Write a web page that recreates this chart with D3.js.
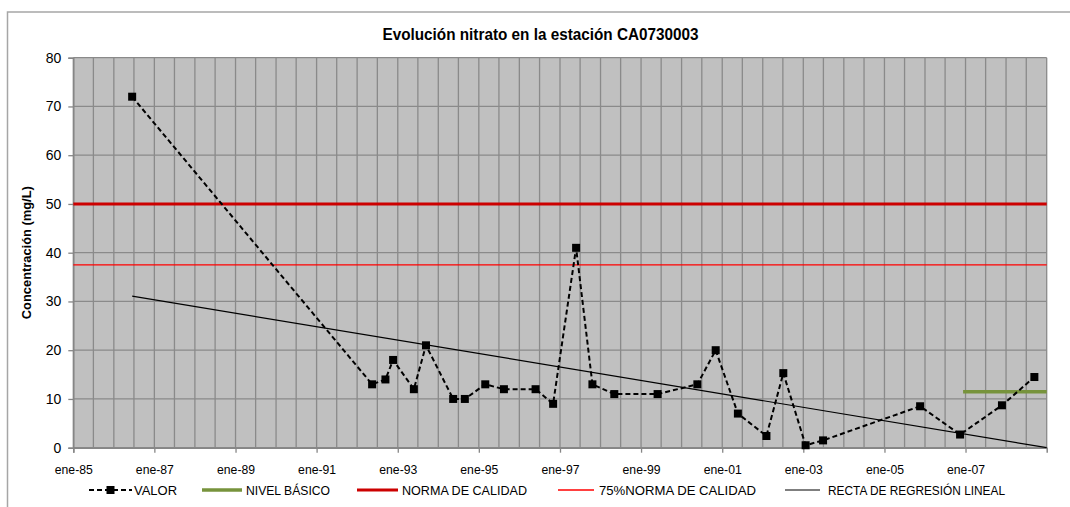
<!DOCTYPE html>
<html>
<head>
<meta charset="utf-8">
<script src="https://cdn.jsdelivr.net/npm/d3@7"></script>
<style>
  html, body { margin: 0; padding: 0; background: #ffffff; }
  svg { display: block; font-family: "Liberation Sans", Arial, sans-serif; }
</style>
</head>
<body>
<svg id="chart" width="1070" height="507"></svg>
<script>
// ---------- DATA ----------
const title = "Evolución nitrato en la estación CA0730003";
const yTitle = "Concentración (mg/L)";

const valorDates = ["1986-06-15","1992-05-15","1992-09-12","1992-11-20","1993-05-26","1993-09-12",
  "1994-05-15","1994-08-28","1995-02-28","1995-08-15","1996-05-26","1996-10-31","1997-05-26",
  "1997-10-20","1998-05-05","1999-05-30","2000-05-22","2000-11-03","2001-05-22","2002-02-03",
  "2002-07-05","2003-01-22","2003-06-28","2005-11-18","2006-11-13","2007-11-25","2008-09-12"];
const valorValues = [72, 13, 14, 18, 12, 21, 10, 10, 13, 12, 12, 9, 41, 13, 11, 11, 13, 20, 7, 2.4,
  15.3, 0.5, 1.5, 8.5, 2.7, 8.7, 14.5];

const nivelBasicoDates = ["2006-12-10", "2009-01-01"];
const nivelBasicoValues = [11.5, 11.5];

const normaDates = ["1985-01-01", "2009-01-01"];
const normaValues = [50, 50];

const norma75Dates = ["1985-01-01", "2009-01-01"];
const norma75Values = [37.5, 37.5];

const regresionDates = ["1986-06-15", "2009-01-01"];
const regresionValues = [31.1, 0.0];

const xDomain = ["1985-01-01", "2009-01-01"];
const xTickDates = ["1985-01-01","1987-01-01","1989-01-01","1991-01-01","1993-01-01","1995-01-01",
  "1997-01-01","1999-01-01","2001-01-01","2003-01-01","2005-01-01","2007-01-01"];
const xTickLabels = ["ene-85","ene-87","ene-89","ene-91","ene-93","ene-95","ene-97","ene-99",
  "ene-01","ene-03","ene-05","ene-07"];
const yTicks = [0, 10, 20, 30, 40, 50, 60, 70, 80];

const legendLabels = ["VALOR", "NIVEL BÁSICO", "NORMA DE CALIDAD", "75%NORMA DE CALIDAD", "RECTA DE REGRESIÓN  LINEAL"];

// ---------- LAYOUT ----------
const parse = d3.utcParse("%Y-%m-%d");
const P = { left: 73.3, right: 1046.7, top: 57.7, bottom: 447.7 };
const svg = d3.select("#chart");

const x = d3.scaleUtc().domain(xDomain.map(parse)).range([P.left, P.right]);
const y = d3.scaleLinear().domain([0, 80]).range([P.bottom, P.top]);

const gridColor = "#8a8a8a";
const axisColor = "#868686";

// outer chart border (only top/left visible)
svg.append("path")
  .attr("d", "M7.5,1100 L7.5,12 L1100,12")
  .attr("fill", "none").attr("stroke", "#a6a6a6").attr("stroke-width", 1.5);

// plot background
svg.append("rect")
  .attr("x", P.left).attr("y", P.top)
  .attr("width", P.right - P.left).attr("height", P.bottom - P.top)
  .attr("fill", "#c0c0c0");

// vertical gridlines every 6 months
const vGrid = d3.utcMonth.every(6).range(parse(xDomain[0]), d3.utcDay.offset(parse(xDomain[1]), 1));
svg.append("g").selectAll("line").data(vGrid).join("line")
  .attr("x1", d => x(d)).attr("x2", d => x(d))
  .attr("y1", P.top).attr("y2", P.bottom)
  .attr("stroke", gridColor).attr("stroke-width", 1.3);

// horizontal gridlines
svg.append("g").selectAll("line").data(yTicks).join("line")
  .attr("x1", P.left).attr("x2", P.right)
  .attr("y1", d => y(d)).attr("y2", d => y(d))
  .attr("stroke", gridColor).attr("stroke-width", 1.3);

// Y axis
const yAxis = d3.axisLeft(y).tickValues(yTicks).tickSize(5).tickPadding(7);
const gy = svg.append("g").attr("transform", `translate(${P.left},0)`).call(yAxis);
gy.select(".domain").attr("stroke", axisColor).attr("stroke-width", 1.5);
gy.selectAll(".tick line").attr("stroke", axisColor).attr("stroke-width", 1.3);
gy.selectAll(".tick text").attr("font-size", 14).attr("fill", "#000")
  .attr("font-family", "Liberation Sans, Arial, sans-serif");

// X axis
const xAxis = d3.axisBottom(x).tickValues(xTickDates.map(parse))
  .tickFormat((d, i) => xTickLabels[i]).tickSize(5).tickPadding(12);
const gx = svg.append("g").attr("transform", `translate(0,${P.bottom})`).call(xAxis);
gx.select(".domain").attr("stroke", axisColor).attr("stroke-width", 1.5);
gx.selectAll(".tick line").attr("stroke", axisColor).attr("stroke-width", 1.3);
gx.selectAll(".tick text").attr("font-size", 13).attr("fill", "#000")
  .attr("font-family", "Liberation Sans, Arial, sans-serif")
  .attr("textLength", 38).attr("lengthAdjust", "spacingAndGlyphs");

// series helpers
const line = d3.line().x(d => x(d[0])).y(d => y(d[1]));
const zip = (ds, vs) => ds.map((d, i) => [parse(d), vs[i]]);

// 75% norma (thin red)
svg.append("path").datum(zip(norma75Dates, norma75Values)).attr("d", line)
  .attr("fill", "none").attr("stroke", "#ff0000").attr("stroke-width", 1.3);
// norma (thick dark red)
svg.append("path").datum(zip(normaDates, normaValues)).attr("d", line)
  .attr("fill", "none").attr("stroke", "#cc0000").attr("stroke-width", 3);
// regression
svg.append("path").datum(zip(regresionDates, regresionValues)).attr("d", line)
  .attr("fill", "none").attr("stroke", "#000").attr("stroke-width", 1.2);
// nivel basico
svg.append("path").datum(zip(nivelBasicoDates, nivelBasicoValues)).attr("d", line)
  .attr("fill", "none").attr("stroke", "#77933c").attr("stroke-width", 3.5);
// valor
const valor = zip(valorDates, valorValues);
svg.append("path").datum(valor).attr("d", line)
  .attr("fill", "none").attr("stroke", "#000").attr("stroke-width", 2)
  .attr("stroke-dasharray", "5,3");
const ms = 8;
svg.append("g").selectAll("rect").data(valor).join("rect")
  .attr("x", d => x(d[0]) - ms / 2).attr("y", d => y(d[1]) - ms / 2)
  .attr("width", ms).attr("height", ms).attr("fill", "#000");

// title
svg.append("text").attr("x", 540.5).attr("y", 40).attr("text-anchor", "middle")
  .attr("font-size", 16).attr("font-weight", "bold").attr("fill", "#000")
  .attr("textLength", 316).attr("lengthAdjust", "spacingAndGlyphs")
  .text(title);

// y title
svg.append("text").attr("transform", `translate(31,${(P.top + P.bottom) / 2}) rotate(-90)`)
  .attr("text-anchor", "middle").attr("font-size", 13).attr("font-weight", "bold")
  .attr("textLength", 133).attr("lengthAdjust", "spacingAndGlyphs")
  .text(yTitle);

// legend
const ly = 490;
const legendItems = [
  { x1: 89, x2: 132, color: "#000", w: 2, dash: "5,3", marker: true, tx: 134, tw: 43 },
  { x1: 202, x2: 242, color: "#77933c", w: 3.5, tx: 246, tw: 84 },
  { x1: 357, x2: 398, color: "#cc0000", w: 3, tx: 402, tw: 125 },
  { x1: 558, x2: 594, color: "#ff0000", w: 1.3, tx: 599, tw: 157 },
  { x1: 785, x2: 820, color: "#000", w: 1.2, tx: 828, tw: 177 }
];
const lg = svg.append("g");
legendItems.forEach((it, i) => {
  lg.append("line").attr("x1", it.x1).attr("x2", it.x2).attr("y1", ly).attr("y2", ly)
    .attr("stroke", it.color).attr("stroke-width", it.w)
    .attr("stroke-dasharray", it.dash || null);
  if (it.marker) {
    lg.append("rect").attr("x", (it.x1 + it.x2) / 2 - ms / 2).attr("y", ly - ms / 2)
      .attr("width", ms).attr("height", ms).attr("fill", "#000");
  }
  lg.append("text").attr("x", it.tx).attr("y", ly + 5)
    .attr("font-size", 13.5).attr("fill", "#000")
    .attr("textLength", it.tw).attr("lengthAdjust", "spacingAndGlyphs")
    .text(legendLabels[i]);
});
</script>
</body>
</html>
